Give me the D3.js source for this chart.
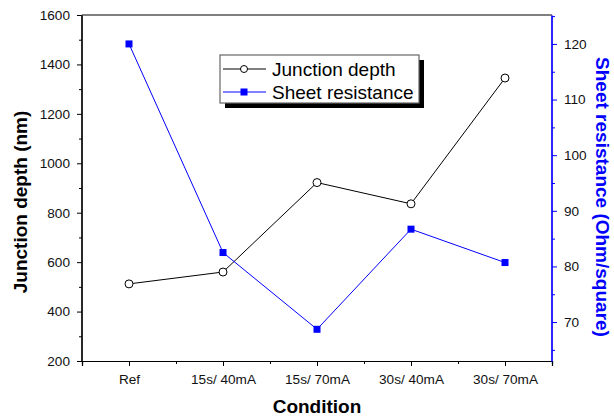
<!DOCTYPE html>
<html>
<head>
<meta charset="utf-8">
<script src="https://cdn.jsdelivr.net/npm/d3@7"></script>
<style>
  body { margin: 0; background: #fff; }
  text { font-family: "Liberation Sans", Arial, sans-serif; }
</style>
</head>
<body>
<div id="chart"></div>
<script>
var conditions = ["Ref", "15s/ 40mA", "15s/ 70mA", "30s/ 40mA", "30s/ 70mA"];
var junctionDepth = [512, 560, 922, 836, 1345];
var sheetResistance = [120, 82.5, 68.7, 86.7, 80.7];
var leftTicks = [200, 400, 600, 800, 1000, 1200, 1400, 1600];
var rightTicks = [70, 80, 90, 100, 110, 120];

var W = 614, H = 418;
var margin = {top: 15, right: 62, bottom: 57, left: 82};
var w = W - margin.left - margin.right,
  h = H - margin.top - margin.bottom;

var svg = d3.select("#chart").append("svg")
  .attr("width", W)
  .attr("height", H);
var g = svg.append("g")
  .attr("transform", "translate(" + margin.left + "," + margin.top + ")");

var x = d3.scaleLinear().domain([-0.5, conditions.length - 0.5]).range([0, w]);
var yL = d3.scaleLinear().domain([200, 1600]).range([h, 0]);
var yR = d3.scaleLinear().domain([63, 125.2]).range([h, 0]);

// frame: top line
g.append("line").attr("x1", 0).attr("x2", w).attr("y1", 0).attr("y2", 0)
  .attr("stroke", "#000").attr("stroke-width", 1.2);

// left axis
var leftAxis = g.append("g").call(d3.axisLeft(yL).tickValues(leftTicks)
  .tickFormat(d3.format("d")).tickSize(5).tickPadding(7));
var leftMinor = g.append("g").call(d3.axisLeft(yL).tickValues(d3.range(300, 1600, 200)).tickSize(3).tickFormat(""));

// bottom axis
var bottomAxis = g.append("g").attr("transform", "translate(0," + h + ")")
  .call(d3.axisBottom(x).tickValues(d3.range(conditions.length))
    .tickFormat(function (d) { return conditions[d]; }).tickSize(5).tickPadding(8));
var bottomMinor = g.append("g").attr("transform", "translate(0," + h + ")")
  .call(d3.axisBottom(x).tickValues(d3.range(conditions.length).map(function (d) { return d + 0.5; }))
    .tickSize(3).tickFormat(""));

// right axis (blue)
var rightAxis = g.append("g").attr("transform", "translate(" + w + ",0)")
  .call(d3.axisRight(yR).tickValues(rightTicks).tickSize(5).tickPadding(7));
var rightMinor = g.append("g").attr("transform", "translate(" + w + ",0)")
  .call(d3.axisRight(yR).tickValues([65, 75, 85, 95, 105, 115, 125]).tickSize(3).tickFormat(""));

[leftAxis, leftMinor, bottomAxis, bottomMinor].forEach(function (a) {
  a.select(".domain").attr("stroke", "#000").attr("stroke-width", 1.2);
  a.selectAll(".tick line").attr("stroke", "#000");
});
[rightAxis, rightMinor].forEach(function (a) {
  a.select(".domain").attr("stroke", "#0000ff").attr("stroke-width", 1.2);
  a.selectAll(".tick line").attr("stroke", "#0000ff");
});
g.selectAll(".tick text").style("font-size", "13.6px").attr("fill", "#111")
  .style("font-family", "'Liberation Sans', Arial, sans-serif");
// no outer ticks at the path ends
g.selectAll(".domain").attr("d", function () {
  return d3.select(this).attr("d").replace(/^M[-\d.]+,([-\d.]+)H[-\d.]+V/, "M0,$1V").replace(/V([-\d.]+)H[-\d.]+$/, "V$1");
});

// axis titles
g.append("text")
  .attr("x", w / 2).attr("y", h + 52)
  .attr("text-anchor", "middle")
  .style("font-size", "19px").style("font-weight", "bold")
  .text("Condition");
g.append("text")
  .attr("transform", "translate(" + (-55) + "," + (h / 2 + 14) + ") rotate(-90)")
  .attr("text-anchor", "middle")
  .style("font-size", "19px").style("font-weight", "bold")
  .text("Junction depth (nm)");
g.append("text")
  .attr("transform", "translate(" + (w + 44) + "," + (h / 2 + 9) + ") rotate(90)")
  .attr("text-anchor", "middle")
  .style("font-size", "19px").style("font-weight", "bold")
  .attr("fill", "#0000ff")
  .text("Sheet resistance (Ohm/square)");

// junction depth line
var lineL = d3.line().x(function (d, i) { return x(i); }).y(function (d) { return yL(d); });
g.append("path").datum(junctionDepth)
  .attr("d", lineL).attr("fill", "none").attr("stroke", "#000").attr("stroke-width", 1);
g.selectAll(".jd").data(junctionDepth).enter().append("circle")
  .attr("class", "jd")
  .attr("cx", function (d, i) { return x(i); })
  .attr("cy", function (d) { return yL(d); })
  .attr("r", 4)
  .attr("fill", "#fff").attr("stroke", "#000").attr("stroke-width", 1);

// sheet resistance line
var lineR = d3.line().x(function (d, i) { return x(i); }).y(function (d) { return yR(d); });
g.append("path").datum(sheetResistance)
  .attr("d", lineR).attr("fill", "none").attr("stroke", "#0000ff").attr("stroke-width", 1);
g.selectAll(".sr").data(sheetResistance).enter().append("rect")
  .attr("class", "sr")
  .attr("x", function (d, i) { return x(i) - 3.5; })
  .attr("y", function (d) { return yR(d) - 3.5; })
  .attr("width", 7).attr("height", 7)
  .attr("fill", "#0000ff");

// legend
var lg = svg.append("g").attr("transform", "translate(220,55)");
lg.append("rect").attr("x", 5).attr("y", 5).attr("width", 199).attr("height", 48).attr("fill", "#000");
lg.append("rect").attr("x", 0).attr("y", 0).attr("width", 199).attr("height", 48)
  .attr("fill", "#fff").attr("stroke", "#666").attr("stroke-width", 1.2);
var legendItems = [
  {name: "Junction depth", color: "#000", marker: "circle"},
  {name: "Sheet resistance", color: "#0000ff", marker: "square"}
];
legendItems.forEach(function (it, i) {
  var yy = 14 + i * 23;
  lg.append("line").attr("x1", 3).attr("x2", 46).attr("y1", yy).attr("y2", yy)
    .attr("stroke", it.color).attr("stroke-width", 1);
  if (it.marker === "circle") {
    lg.append("circle").attr("cx", 24).attr("cy", yy).attr("r", 3.5)
      .attr("fill", "#fff").attr("stroke", it.color);
  } else {
    lg.append("rect").attr("x", 20.5).attr("y", yy - 3.5).attr("width", 7).attr("height", 7)
      .attr("fill", it.color);
  }
  lg.append("text").attr("x", 52).attr("y", yy + 6.5)
    .style("font-size", "19px").attr("fill", "#000").text(it.name);
});
</script>
</body>
</html>
